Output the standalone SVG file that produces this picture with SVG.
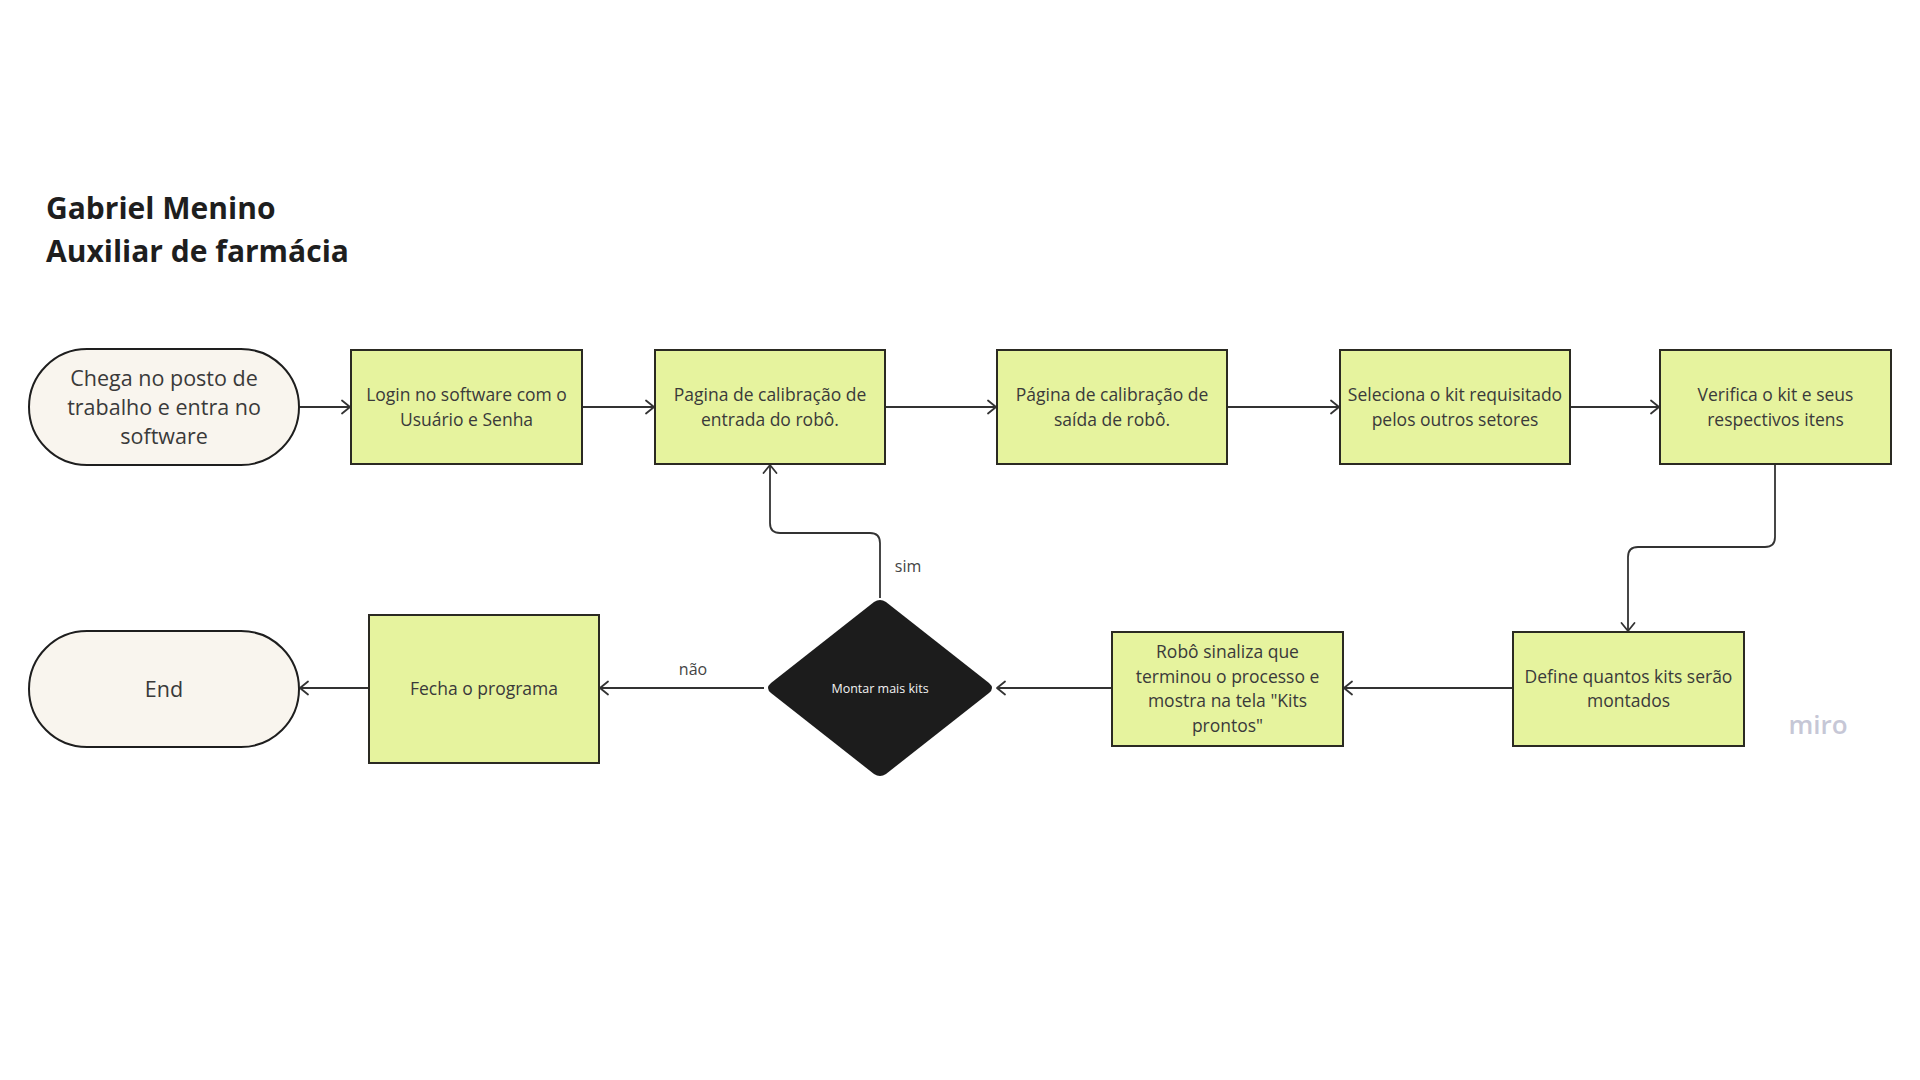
<svg xmlns="http://www.w3.org/2000/svg" width="1920" height="1080" viewBox="0 0 1920 1080">
<defs>
<marker id="arr" markerUnits="userSpaceOnUse" markerWidth="12" markerHeight="16" viewBox="0 0 12 16" refX="10" refY="8" orient="auto">
<path d="M2,1.5 L10,8 L2,14.5" fill="none" stroke="#333333" stroke-width="1.8" stroke-linecap="round" stroke-linejoin="round"/>
</marker>
<style>
.box{fill:#e6f39e;stroke:#2b2a22;stroke-width:2}
.term{fill:#f9f5ee;stroke:#1e1e1e;stroke-width:2}
.t{font-family:"Open Sans","Noto Sans","Liberation Sans",sans-serif;font-size:17.5px;fill:#3a3a3a;text-anchor:middle}
.tl{font-family:"Open Sans","Noto Sans","Liberation Sans",sans-serif;font-size:21.5px;fill:#3a3a3a;text-anchor:middle}
.title{font-family:"Open Sans","Noto Sans","Liberation Sans",sans-serif;font-size:30px;font-weight:700;fill:#1e1e1e}
.lab{font-family:"Open Sans","Noto Sans","Liberation Sans",sans-serif;font-size:16px;fill:#444444;text-anchor:middle}
.c{fill:none;stroke:#333333;stroke-width:1.8;marker-end:url(#arr)}
</style>
</defs>
<rect width="1920" height="1080" fill="#ffffff"/>

<g id="title">
<text class="title" x="46" y="219">Gabriel Menino</text>
<text class="title" x="46" y="262">Auxiliar de farmácia</text>
</g>

<g id="connectors">
<path class="c" d="M299,407 H350"/>
<path class="c" d="M582,407 H654"/>
<path class="c" d="M885,407 H996"/>
<path class="c" d="M1227,407 H1339"/>
<path class="c" d="M1570,407 H1659"/>
<path class="c" d="M1775,464 V537 Q1775,547 1765,547 H1638 Q1628,547 1628,557 V631"/>
<path class="c" d="M1513,688 H1344"/>
<path class="c" d="M1112,688 H997"/>
<path class="c" d="M764,688 H600"/>
<path class="c" d="M369,688 H300"/>
<path class="c" d="M880,598 V543 Q880,533 870,533 H780 Q770,533 770,523 V465"/>
<text class="lab" x="908" y="572">sim</text>
<text class="lab" x="693" y="675">não</text>
</g>

<g id="start">
<rect class="term" x="29" y="349" width="270" height="116" rx="58"/>
<text class="tl" x="164" y="386">Chega no posto de</text>
<text class="tl" x="164" y="415">trabalho e entra no</text>
<text class="tl" x="164" y="444">software</text>
</g>

<g id="login">
<rect class="box" x="351" y="350" width="231" height="114"/>
<text class="t" x="466.5" y="401">Login no software com o</text>
<text class="t" x="466.5" y="426">Usuário e Senha</text>
</g>

<g id="entrada">
<rect class="box" x="655" y="350" width="230" height="114"/>
<text class="t" x="770" y="401">Pagina de calibração de</text>
<text class="t" x="770" y="426">entrada do robô.</text>
</g>

<g id="saida">
<rect class="box" x="997" y="350" width="230" height="114"/>
<text class="t" x="1112" y="401">Página de calibração de</text>
<text class="t" x="1112" y="426">saída de robô.</text>
</g>

<g id="seleciona">
<rect class="box" x="1340" y="350" width="230" height="114"/>
<text class="t" x="1455" y="401">Seleciona o kit requisitado</text>
<text class="t" x="1455" y="426">pelos outros setores</text>
</g>

<g id="verifica">
<rect class="box" x="1660" y="350" width="231" height="114"/>
<text class="t" x="1775.5" y="401">Verifica o kit e seus</text>
<text class="t" x="1775.5" y="426">respectivos itens</text>
</g>

<g id="define">
<rect class="box" x="1513" y="632" width="231" height="114"/>
<text class="t" x="1628.5" y="683">Define quantos kits serão</text>
<text class="t" x="1628.5" y="707">montados</text>
</g>

<g id="robo">
<rect class="box" x="1112" y="632" width="231" height="114"/>
<text class="t" x="1227.5" y="658">Robô sinaliza que</text>
<text class="t" x="1227.5" y="683">terminou o processo e</text>
<text class="t" x="1227.5" y="707">mostra na tela "Kits</text>
<text class="t" x="1227.5" y="732">prontos"</text>
</g>

<g id="decisao">
<path d="M874,602 Q880,598 886,602 L989,683 Q995,688 989,693 L886,774 Q880,778 874,774 L771,693 Q765,688 771,683 Z" fill="#1c1c1c"/>
<text x="880" y="693" font-family="'Open Sans','Noto Sans','Liberation Sans',sans-serif" font-size="12.5" font-weight="500" fill="#f2f2f2" text-anchor="middle">Montar mais kits</text>
</g>

<g id="fecha">
<rect class="box" x="369" y="615" width="230" height="148"/>
<text class="t" x="484" y="695">Fecha o programa</text>
</g>

<g id="end">
<rect class="term" x="29" y="631" width="270" height="116" rx="58"/>
<text class="tl" x="164" y="697">End</text>
</g>

<g id="watermark">
<text x="1818" y="734" font-family="'Open Sans','Noto Sans','Liberation Sans',sans-serif" font-size="26" font-weight="600" fill="#c6c7d6" text-anchor="middle">miro</text>
</g>
</svg>
